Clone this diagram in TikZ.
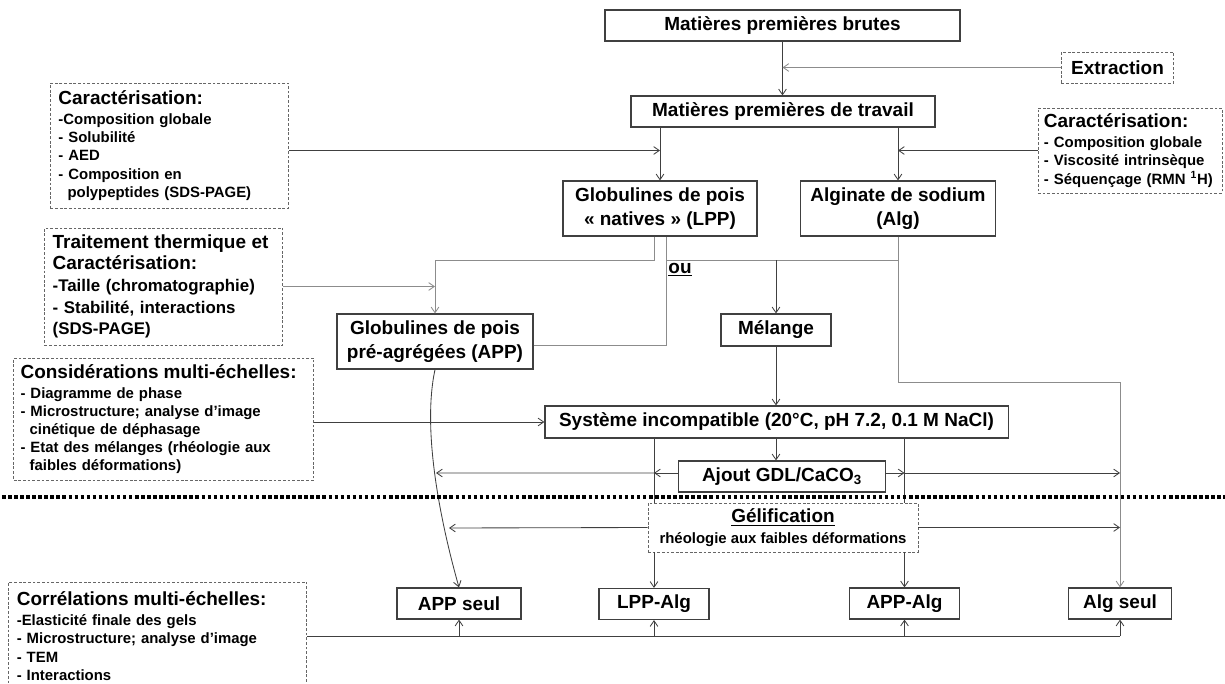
\documentclass[tikz,border=0pt]{standalone}
\usepackage{fontspec}
\setmainfont{Liberation Sans}
\usetikzlibrary{arrows.meta}
\newcommand\grand{\fontsize{13.5}{17.5}\selectfont\bfseries}
\newcommand\moyen{\fontsize{12}{15.4}\selectfont\bfseries}
\newcommand\petit{\fontsize{10.6}{12.9}\selectfont\bfseries}
\begin{document}
\begin{tikzpicture}[x=0.025cm,y=-0.025cm,
  boite/.style={draw=black!75,line width=0.8pt,fill=white,font=\grand,align=center,inner sep=0pt},
  cadre/.style={draw=black!60,line width=0.6pt,dash pattern=on 2pt off 1.3pt,fill=white,font=\petit,align=left,inner xsep=0.2cm,inner ysep=0pt},
  lien/.style={draw=black!75,line width=0.6pt},
  lienc/.style={draw=black!45,line width=0.6pt},
  >={Straight Barb[length=4pt,width=5.5pt]}]
                        \useasboundingbox (0,0) rectangle (1225,684);
                        \clip (0,0) rectangle (1225,684);

                        % Drawing boxes of the main chain
                        \node [boite,minimum width=8.875cm,minimum height=0.775cm] (brutes) at (782.5,25.5) {Matières premières brutes};%
                        \node [boite,minimum width=7.6cm,minimum height=0.775cm] (travail) at (783,111.5) {Matières premières de travail};%
                        \node [boite,minimum width=4.85cm,minimum height=1.375cm] (lpp) at (660,208.5) {Globulines de pois\\« natives » (LPP)};%
                        \node [boite,minimum width=4.89cm,minimum height=1.375cm] (alg) at (898,208.5) {Alginate de sodium\\(Alg)};%
                        \node [boite,minimum width=4.9cm,minimum height=1.375cm] (app) at (435,341.5) {Globulines de pois\\pré-agrégées (APP)};%
                        \node [boite,minimum width=2.75cm,minimum height=0.8cm] (melange) at (776,330) {Mélange};%
                        \node [boite,minimum width=11.575cm,minimum height=0.8cm] (systeme) at (776.5,422) {Système incompatible (20°C, pH 7.2, 0.1 M NaCl)};%
                        \node [boite,minimum width=5.19cm,minimum height=0.775cm] (ajout) at (782,476.5) {Ajout GDL/CaCO\textsubscript{3}};%

                        % Drawing boxes of the gels
                        \node [boite,minimum width=3.1cm,minimum height=0.775cm] (appseul) at (459,603.5) {APP seul};%
                        \node [boite,minimum width=2.75cm,minimum height=0.775cm] (lppalg) at (654,604) {LPP-Alg};%
                        \node [boite,minimum width=2.75cm,minimum height=0.775cm] (appalg) at (904.5,603.5) {APP-Alg};%
                        \node [boite,minimum width=2.59cm,minimum height=0.775cm] (algseul) at (1120,603.5) {Alg seul};%

                        % Drawing dashed boxes
                        \node [cadre,font=\grand,align=center,minimum width=2.8cm,minimum height=0.775cm] (extraction) at (1117.5,67.5) {Extraction};%
                        \node [cadre,text width=5.55cm,minimum height=3.125cm] (caracL) at (169.5,145.5) {{\grand Caractérisation:}\\[1.4pt]
                          -Composition globale\\- Solubilité\\- AED\\- Composition en\\\hspace*{0.611em}polypeptides (SDS-PAGE)};%
                        \node [cadre,inner xsep=0.15cm,text width=4.3cm,minimum height=2.125cm] (caracR) at (1130,150.5) {{\grand Caractérisation:}\\[1.4pt]
                          - Composition globale\\- Viscosité intrinsèque\\\mbox{- Séquençage (RMN \textsuperscript{1}H)}};%
                        \node [cadre,font=\moyen,text width=5.55cm,minimum height=2.925cm] (trait) at (163.7,286.5) {{\grand Traitement thermique et}\\{\grand Caractérisation:}\\
                          -Taille (chromatographie)\\- Stabilité, interactions\\(SDS-PAGE)};%
                        \node [cadre,inner xsep=0.17cm,text width=7.16cm,minimum height=3.05cm] (consid) at (163.8,419) {\mbox{\grand Considérations multi-échelles:}\\[1.4pt]
                          - Diagramme de phase\\- Microstructure; analyse d’image\\\hspace*{0.611em}cinétique de déphasage\\- Etat des mélanges (rhéologie aux\\\hspace*{0.611em}faibles déformations)};%
                        \node [cadre,text width=7.05cm,minimum height=2.7cm] (correl) at (157.85,636) {\mbox{\grand Corrélations multi-échelles:}\\[1.4pt]
                          -Elasticité finale des gels\\- Microstructure; analyse d’image\\- TEM\\- Interactions};%
                        \node [cadre,align=center,minimum width=6.75cm,minimum height=1.225cm] (gel) at (783,527.5) {{\grand\underline{Gélification}}\\[1.5pt]rhéologie aux faibles déformations};%
                        \node [inner sep=0pt,font=\grand] (ou) at (680,270) {\underline{ou}};%

                        % Marking junctions
                        \coordinate (ourow) at (666.5,260);%
                        \coordinate (algcoude) at (1120,382);%
                        \coordinate (rangA) at ([yshift=2.5pt]ajout.west);%
                        \coordinate (courbeA) at (436,473);%
                        \coordinate (courbeG) at (449,528);%

                        % Drawing lines of the upper part
                        \draw [lien,->] (brutes.south) -- (brutes.south |- travail.north);%
                        \draw [lienc,->] (extraction.west) -- (extraction.west -| brutes.south);%
                        \draw [lien,->] (travail.south -| lpp) -- (lpp.north);%
                        \draw [lien,->] (travail.south -| alg) -- (alg.north);%
                        \draw [lien,->] (caracL.east |- caracR.west) -- (caracR.west -| lpp);%
                        \draw [lien,->] (caracR.west) -- (caracR.west -| alg);%
                        \draw [lienc,->] ([xshift=-4.25pt]lpp.south) |- (app.north |- ourow) -- (app.north);%
                        \draw [lienc,->] (trait.east) -- (trait.east -| app);%
                        \draw [lienc] ([yshift=-2.5pt]app.east) -| ([xshift=4.6pt]lpp.south);%
                        \draw [lienc] (ourow) -- (ourow -| alg);%
                        \draw [lien,->] (ourow -| melange) -- (melange.north);%
                        \draw [lienc,->] (alg.south) |- (algcoude) -- (algseul.north);%

                        % Drawing lines of the mixture
                        \draw [lien,->] (melange.south) -- (systeme.north -| melange);%
                        \draw [lien,->] (consid.east |- systeme.west) -- (systeme.west);%
                        \draw [lien,->] (systeme.south -| melange) -- (ajout.north -| melange);%
                        \draw [lien] (systeme.south -| lppalg) -- (gel.north -| lppalg);%
                        \draw [lien,->] (gel.south -| lppalg) -- (lppalg.north);%
                        \draw [lien] (systeme.south -| appalg) -- (gel.north -| appalg);%
                        \draw [lien,->] (gel.south -| appalg) -- (appalg.north);%
                        \draw [lien,->] (rangA) -- (rangA -| lppalg);%
                        \draw [lien,->] (rangA -| lppalg) -- (courbeA);%
                        \draw [lien,->] (rangA -| ajout.east) -- (rangA -| appalg);%
                        \draw [lien,->] (rangA -| appalg) -- (rangA -| algseul);%
                        \draw [lien,->] (gel.west) -- (courbeG);%
                        \draw [lien,->] (gel.east) -- (gel.east -| algseul);%
                        \draw [lien,->] (app.south) .. controls (422,430) and (440,520) .. (appseul.north);%

                        % Drawing lines of the correlations
                        \draw [lien] (correl.east) -- (correl.east -| algseul);%
                        \foreach \n in {appseul,lppalg,appalg,algseul}
                          \draw [lien,->] (correl.east -| \n) -- (\n.south);%

                        % Drawing separator
                        \draw [line width=2.5pt,dash pattern=on 2.5pt off 1.8pt] (2,497) -- (1225,497);%
\end{tikzpicture}
\end{document}
